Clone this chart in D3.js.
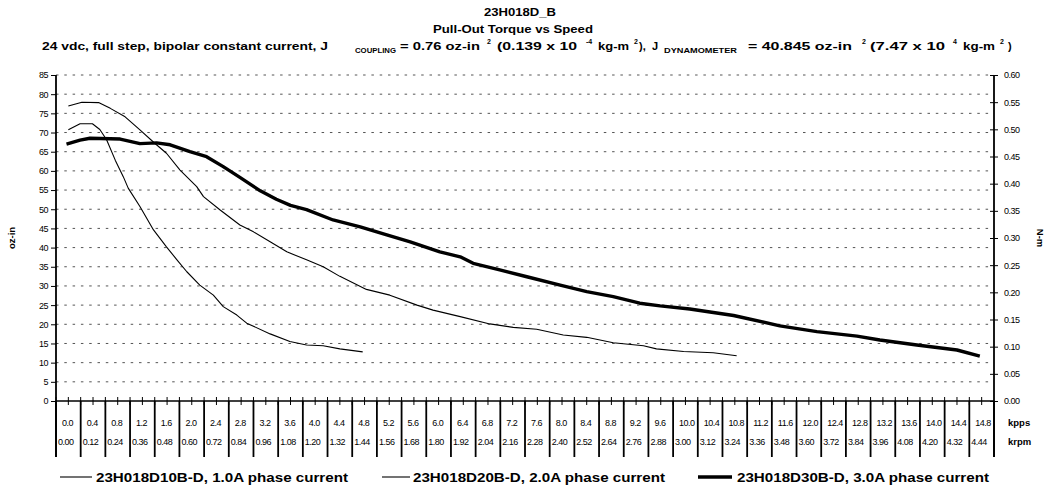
<!DOCTYPE html>
<html lang="en">
<head>
<meta charset="UTF-8">
<title>23H018D_B Pull-Out Torque vs Speed</title>
<script src="https://cdn.jsdelivr.net/npm/d3@7"></script>
<style>
  body { margin: 0; background: #fff; }
  svg { font-family: Arial, "Liberation Sans", sans-serif; }
  .tick text { font-size: 9px; letter-spacing: -0.5px; fill: #000; }
</style>
</head>
<body>
<svg id="chart" width="1045" height="489"></svg>
<script>
// DATA
// speed axis labels (the table under the plot)
const kppsLabels = ["0.0","0.4","0.8","1.2","1.6","2.0","2.4","2.8","3.2","3.6","4.0","4.4","4.8",
  "5.2","5.6","6.0","6.4","6.8","7.2","7.6","8.0","8.4","8.8","9.2","9.6","10.0","10.4","10.8",
  "11.2","11.6","12.0","12.4","12.8","13.2","13.6","14.0","14.4","14.8"];
const krpmLabels = ["0.00","0.12","0.24","0.36","0.48","0.60","0.72","0.84","0.96","1.08","1.20","1.32","1.44",
  "1.56","1.68","1.80","1.92","2.04","2.16","2.28","2.40","2.52","2.64","2.76","2.88","3.00","3.12","3.24",
  "3.36","3.48","3.60","3.72","3.84","3.96","4.08","4.20","4.32","4.44"];
const ozTicks = [0,5,10,15,20,25,30,35,40,45,50,55,60,65,70,75,80,85];
const nmTicks = [0,0.05,0.10,0.15,0.20,0.25,0.30,0.35,0.40,0.45,0.50,0.55,0.60];

// [kpps, oz-in]
const d10 = [[0.20,70.7],[0.39,72.3],[0.59,72.3],[0.71,70.8],[0.82,68.1],[0.96,62.8],[1.09,58.5],
  [1.17,55.5],[1.36,50.7],[1.58,44.6],[1.79,40.2],[1.96,36.8],[2.12,33.7],[2.33,30.2],[2.55,27.6],
  [2.71,24.6],[2.93,22.4],[3.09,20.3],[3.47,17.5],[3.79,15.5],[4.06,14.6],[4.33,14.4],[4.60,13.6],[4.97,12.8]];
const d20 = [[0.20,76.9],[0.42,77.9],[0.69,77.8],[0.88,76.3],[1.12,74.1],[1.36,70.7],[1.60,67.2],
  [1.79,64.6],[2.01,60.2],[2.28,55.9],[2.39,53.3],[2.66,49.8],[2.98,45.9],[3.20,44.1],[3.47,41.5],
  [3.74,38.9],[4.06,36.8],[4.33,35.0],[4.60,32.5],[5.03,29.1],[5.41,27.6],[5.85,25.0],[6.11,23.7],
  [6.55,22.0],[7.03,20.1],[7.41,19.2],[7.79,18.7],[8.22,17.2],[8.60,16.6],[9.03,15.2],[9.52,14.4],
  [9.73,13.6],[10.17,12.9],[10.65,12.6],[11.03,11.8]];
const d30 = [[0.17,67.0],[0.39,68.0],[0.55,68.5],[1.04,68.3],[1.36,67.1],[1.63,67.3],[1.85,66.8],
  [2.17,65.0],[2.44,63.7],[2.71,61.1],[2.98,58.3],[3.31,54.8],[3.57,52.6],[3.80,51.0],[4.06,49.9],[4.49,47.2],
  [4.93,45.4],[5.36,43.3],[5.74,41.5],[6.22,38.9],[6.55,37.6],[6.76,35.9],[7.19,34.2],[7.63,32.4],
  [8.17,30.2],[8.60,28.5],[9.03,27.2],[9.46,25.5],[9.79,24.8],[10.27,24.0],[10.98,22.3],[11.73,19.6],
  [12.33,18.1],[12.98,16.9],[13.35,15.9],[13.95,14.6],[14.60,13.3],[14.97,11.7]];

const seriesNames = ["23H018D10B-D, 1.0A phase current",
                     "23H018D20B-D, 2.0A phase current",
                     "23H018D30B-D, 3.0A phase current"];

// CHART
const svg = d3.select("#chart");
const dim = {left: 56, right: 994, top: 75, bottom: 401, table: 457};

const x = d3.scaleLinear().domain([0, 15.2]).range([dim.left, dim.right]);
const y = d3.scaleLinear().domain([0, 85]).range([dim.bottom, dim.top]);
const yNm = d3.scaleLinear().domain([0, 0.6]).range([dim.bottom, dim.top]);

// dotted gridlines
svg.append("g")
  .selectAll("line")
  .data(ozTicks.filter(d => d > 0))
  .join("line")
    .attr("x1", dim.left).attr("x2", dim.right)
    .attr("y1", d => y(d)).attr("y2", d => y(d))
    .attr("stroke", "#555").attr("stroke-width", 1)
    .attr("stroke-dasharray", "2.5,5.8");

// left axis (oz-in)
const gLeft = svg.append("g")
  .attr("transform", `translate(${dim.left},0)`)
  .call(d3.axisLeft(y).tickValues(ozTicks).tickSize(5).tickSizeOuter(0).tickPadding(3));
gLeft.select(".domain").remove();
gLeft.selectAll(".tick line").attr("stroke", "#000");

// right axis (N-m)
const gRight = svg.append("g")
  .attr("transform", `translate(${dim.right},0)`)
  .call(d3.axisRight(yNm).tickValues(nmTicks).tickFormat(d3.format(".2f")).tickSize(4).tickPadding(6));
gRight.select(".domain").remove();
gRight.selectAll(".tick line").attr("x1", -4).attr("stroke", "#000");

// x axis ticks every 0.2 kpps, crossing the axis line
const halfTicks = d3.range(0, 76).map(i => i * 0.2);
svg.append("g")
  .selectAll("line")
  .data(halfTicks)
  .join("line")
    .attr("x1", d => x(d)).attr("x2", d => x(d))
    .attr("y1", dim.bottom - 4).attr("y2", dim.bottom + 4)
    .attr("stroke", "#000");

// table separators below the axis
const bounds = kppsLabels.map(d => +d).concat([15.2]);
svg.append("g")
  .selectAll("line")
  .data(bounds)
  .join("line")
    .attr("x1", d => x(d)).attr("x2", d => x(d))
    .attr("y1", dim.bottom).attr("y2", dim.table)
    .attr("stroke", "#000").attr("stroke-width", 1.8);

// axis lines
svg.append("line")
  .attr("x1", dim.left).attr("x2", dim.left)
  .attr("y1", dim.top).attr("y2", dim.table)
  .attr("stroke", "#000").attr("stroke-width", 1.8);
svg.append("line")
  .attr("x1", dim.right).attr("x2", dim.right)
  .attr("y1", dim.top).attr("y2", dim.table)
  .attr("stroke", "#000").attr("stroke-width", 1.8);
svg.append("line")
  .attr("x1", dim.left).attr("x2", dim.right)
  .attr("y1", dim.bottom).attr("y2", dim.bottom)
  .attr("stroke", "#000").attr("stroke-width", 1.4);

// table labels
const tbl = svg.append("g").style("font-size", "9px").style("letter-spacing", "-0.5px");
tbl.selectAll("text.kpps")
  .data(kppsLabels)
  .join("text").attr("class", "kpps")
    .attr("x", d => x(+d) + 6).attr("y", 426)
    .text(d => d);
tbl.selectAll("text.krpm")
  .data(krpmLabels)
  .join("text").attr("class", "krpm")
    .attr("x", (d, i) => x(+kppsLabels[i]) + 2).attr("y", 445)
    .text(d => d);
svg.append("text").attr("x", 1008).attr("y", 426)
  .style("font-size", "9.5px").style("font-weight", "bold").text("kpps");
svg.append("text").attr("x", 1008).attr("y", 445)
  .style("font-size", "9.5px").style("font-weight", "bold").text("krpm");

// axis titles
svg.append("text")
  .attr("transform", "translate(15,238) rotate(-90)")
  .attr("text-anchor", "middle")
  .style("font-size", "9.5px").style("font-weight", "bold")
  .text("oz-in");
svg.append("text")
  .attr("transform", "translate(1037,238) rotate(90)")
  .attr("text-anchor", "middle")
  .style("font-size", "9.5px").style("font-weight", "bold")
  .text("N-m");

// curves
const line = d3.line().x(d => x(d[0])).y(d => y(d[1]));
const series = [
  {data: d10, width: 1.1},
  {data: d20, width: 1.1},
  {data: d30, width: 3.4}
];
svg.append("g")
  .selectAll("path")
  .data(series)
  .join("path")
    .attr("d", d => line(d.data))
    .attr("fill", "none")
    .attr("stroke", "#000")
    .attr("stroke-width", d => d.width)
    .attr("stroke-linejoin", "round");

// titles
svg.append("text").attr("x", 520).attr("y", 16).attr("text-anchor", "middle")
  .style("font-size", "11px").style("font-weight", "bold")
  .attr("textLength", 72).attr("lengthAdjust", "spacingAndGlyphs")
  .text("23H018D_B");
svg.append("text").attr("x", 513).attr("y", 33).attr("text-anchor", "middle")
  .style("font-size", "11px").style("font-weight", "bold")
  .attr("textLength", 160).attr("lengthAdjust", "spacingAndGlyphs")
  .text("Pull-Out Torque vs Speed");

// subtitle pieces: [text, x, width, kind]
const subPieces = [
  ["24 vdc, full step, bipolar constant current, J", 42, 286, "n"],
  ["COUPLING", 355, 41, "sub"],
  ["= 0.76 oz-in", 400, 80, "n"],
  ["2", 487, 0, "sup"],
  ["(0.139 x 10", 497, 80, "n"],
  ["-4", 586, 0, "sup"],
  ["kg-m", 598, 31, "n"],
  ["2", 634, 0, "sup"],
  ["),", 639, 0, "n"],
  ["J", 652, 0, "n"],
  ["DYNAMOMETER", 664, 73, "sub"],
  ["= 40.845 oz-in", 748, 104, "n"],
  ["2", 862, 0, "sup"],
  ["(7.47 x 10", 870, 75, "n"],
  ["4", 953, 0, "sup"],
  ["kg-m", 963, 32, "n"],
  ["2", 1000, 0, "sup"],
  [")", 1008, 0, "n"]
];
const sub = svg.append("g").style("font-weight", "bold");
subPieces.forEach(([t, px, w, kind]) => {
  const el = sub.append("text")
    .attr("x", px)
    .attr("y", kind === "sub" ? 53 : kind === "sup" ? 44 : 50)
    .style("font-size", kind === "n" ? "11px" : "7px")
    .text(t);
  if (w) el.attr("textLength", w).attr("lengthAdjust", "spacingAndGlyphs");
});

// legend
const legend = [
  {x1: 60, x2: 92, tx: 96, width: 1.1},
  {x1: 382, x2: 410, tx: 413, width: 1.1},
  {x1: 698, x2: 732, tx: 737, width: 3.4}
];
const lg = svg.append("g");
lg.selectAll("line")
  .data(legend)
  .join("line")
    .attr("x1", d => d.x1).attr("x2", d => d.x2)
    .attr("y1", 477).attr("y2", 477)
    .attr("stroke", "#000").attr("stroke-width", d => d.width);
lg.selectAll("text")
  .data(legend)
  .join("text")
    .attr("x", d => d.tx).attr("y", 482)
    .style("font-size", "13.5px").style("font-weight", "bold")
    .attr("textLength", 252).attr("lengthAdjust", "spacingAndGlyphs")
    .text((d, i) => seriesNames[i]);
</script>
</body>
</html>
